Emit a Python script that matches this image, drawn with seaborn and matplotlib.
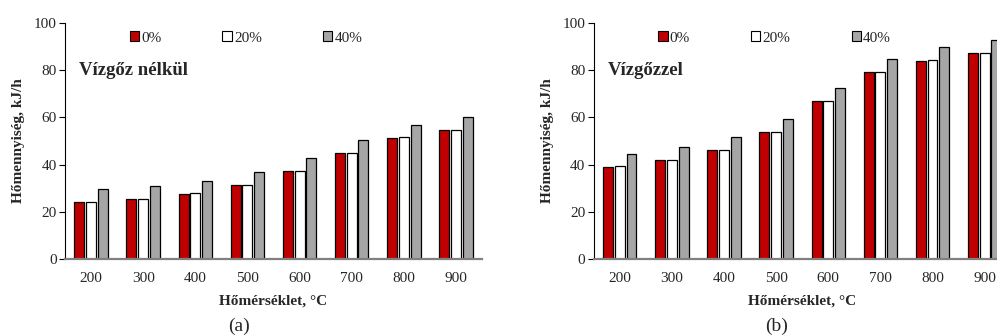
import matplotlib
matplotlib.use("Agg")
import matplotlib.pyplot as plt
import seaborn as sns
import pandas as pd
from matplotlib.patches import Patch

temps = ["200", "300", "400", "500", "600", "700", "800", "900"]
series = ["0%", "20%", "40%"]

# Panel (a): Vízgőz nélkül
a_0 = [24.0, 25.3, 27.6, 31.3, 37.1, 45.0, 51.2, 54.5]
a_20 = [24.3, 25.6, 27.9, 31.4, 37.1, 45.1, 51.5, 54.5]
a_40 = [29.6, 30.8, 33.1, 36.8, 42.6, 50.5, 56.7, 60.0]

# Panel (b): Vízgőzzel
b_0 = [39.0, 41.9, 46.0, 53.7, 66.9, 79.2, 84.0, 87.3]
b_20 = [39.3, 42.0, 46.3, 53.9, 67.0, 79.3, 84.3, 87.4]
b_40 = [44.7, 47.4, 51.6, 59.3, 72.4, 84.7, 89.7, 92.8]

colors = ["#C00000", "#FFFFFF", "#A6A6A6"]
yticks = [0, 20, 40, 60, 80, 100]

sns.set_style("white")
plt.rcParams["font.family"] = ["Liberation Serif", "DejaVu Serif"]

def long_df(v0, v20, v40):
    rows = []
    for s, vals in zip(series, [v0, v20, v40]):
        for t, v in zip(temps, vals):
            rows.append({"temp": t, "pct": s, "val": v})
    return pd.DataFrame(rows)

W, H = 997, 336
fig = plt.figure(figsize=(W / 100, H / 100), dpi=100)

panels = [
    (65, long_df(a_0, a_20, a_40), "Vízgőz nélkül", "(a)", 239),
    (593.7, long_df(b_0, b_20, b_40), "Vízgőzzel", "(b)", 777),
]

for left_px, df, title, tag, tag_x in panels:
    ax = fig.add_axes([left_px / W, (H - 259) / H, 417 / W, 236 / H])
    sns.barplot(data=df, x="temp", y="val", hue="pct", order=temps,
                hue_order=series, palette=colors, width=0.675, gap=0.15,
                edgecolor="black", linewidth=0.9, saturation=1, ax=ax,
                legend=False)
    ax.set_xlim(-0.5, 7.5)
    ax.set_ylim(0, 100)
    ax.set_yticks(yticks)
    ax.set_yticklabels([str(v) for v in yticks], fontsize=11)
    ax.tick_params(axis="x", length=0, labelsize=11, pad=9)
    ax.tick_params(axis="y", length=4, width=0.8, color="black",
                   direction="out", pad=2, left=True)
    for s in ["top", "right"]:
        ax.spines[s].set_visible(False)
    ax.spines["left"].set_color("black")
    ax.spines["left"].set_linewidth(0.8)
    ax.spines["bottom"].set_color("#808080")
    ax.spines["bottom"].set_linewidth(1.6)
    ax.set_xlabel("Hőmérséklet, °C", fontsize=11, fontweight="bold", labelpad=7)
    ax.set_ylabel("Hőmennyiség, kJ/h", fontsize=11, fontweight="bold", labelpad=6)
    ax.text(0.034, 0.80, title, transform=ax.transAxes, fontsize=13.5,
            fontweight="bold", va="center", ha="left")
    handles = [Patch(facecolor=c, edgecolor="black", linewidth=0.8) for c in colors]
    ax.legend(handles, series, loc="center left", bbox_to_anchor=(0.155, 0.936),
              ncol=3, frameon=False, fontsize=11, handlelength=0.6,
              handleheight=0.6, handletextpad=0.15, columnspacing=4.0,
              borderaxespad=0, borderpad=0)
    fig.text(tag_x / W, 1 - 326 / H, tag, fontsize=14, ha="center", va="center")

fig.savefig("out.png", dpi=100)
